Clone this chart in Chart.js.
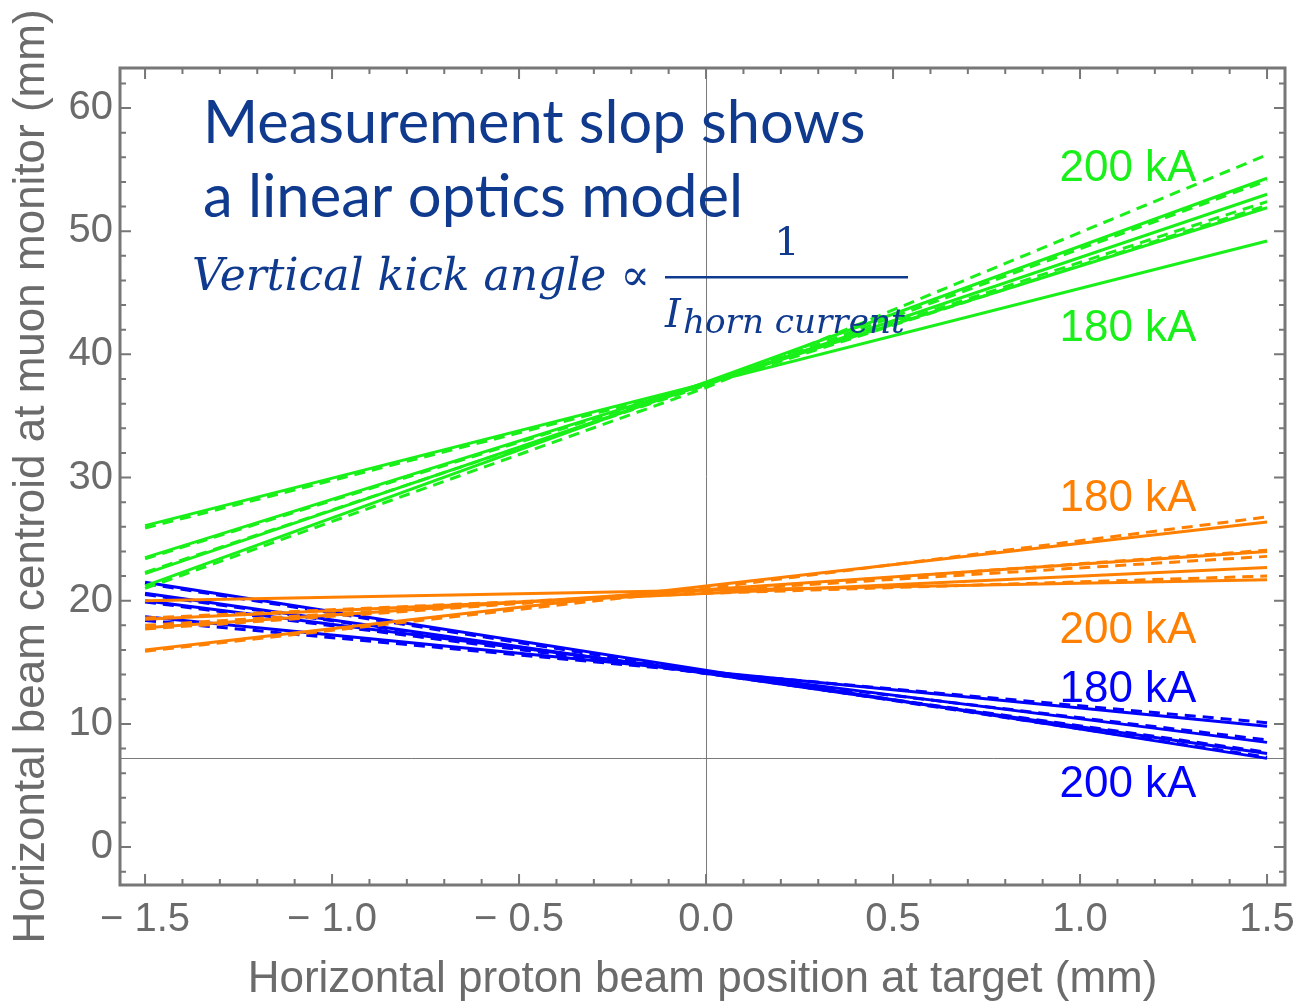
<!DOCTYPE html>
<html>
<head>
<meta charset="utf-8">
<script src="https://cdn.jsdelivr.net/npm/chart.js@4.4.1/dist/chart.umd.min.js"></script>
<style>
  html, body { margin: 0; padding: 0; background: #fff; }
  #wrap { width: 1295px; height: 1004px; }
</style>
</head>
<body>
<div id="wrap"><canvas id="muonChart"></canvas></div>
<script>
// x positions of the end points (model) and of the measured points
const xEnds = [-1.5, 1.5];
const xMeas = [-1.5, 0, 1.5];

// model lines (solid): value at x=-1.5 and x=1.5
const greenSolid = [[26.1, 49.2], [23.5, 51.9], [22.2, 53.0], [21.2, 54.3]];
const orangeSolid = [[16.0, 26.4], [17.8, 24.0], [18.5, 22.7], [20.0, 21.7]];
const blueSolid = [[18.7, 9.8], [20.0, 8.5], [20.6, 7.6], [21.5, 7.2]];

// measurement (dashed): value at x=-1.5, 0, 1.5
const greenDashed = [[25.9, 37.5, 52.1], [23.4, 37.6, 52.4], [22.3, 37.5, 54.1], [21.0, 37.3, 56.2]];
const orangeDashed = [[15.9, 21.0, 26.8], [17.7, 20.8, 24.1], [18.0, 20.8, 23.6], [18.6, 20.6, 22.0]];
const blueDashed = [[18.4, 14.2, 10.1], [19.9, 14.1, 8.7], [20.5, 14.1, 7.7], [21.4, 14.2, 7.3]];

const xTicks = [-1.5, -1.0, -0.5, 0.0, 0.5, 1.0, 1.5];
const yTicks = [0, 10, 20, 30, 40, 50, 60];
const baseLineY = 7.2;

const GREEN = '#19f019';
const ORANGE = '#ff8000';
const BLUE = '#0000ff';
const NAVY = '#0f3a8e';
const GREY = '#6b6b6b';

function makeSets(rows, xs, color, dashed) {
    return rows.map(r => ({
        data: r.map((v, i) => ({ x: xs[i], y: v })),
        borderColor: color,
        borderWidth: 3,
        borderDash: dashed ? [11, 7] : [],
        pointRadius: 0,
        fill: false,
        tension: 0
    }));
}

const datasets = [].concat(
    makeSets(greenDashed, xMeas, GREEN, true),
    makeSets(greenSolid, xEnds, GREEN, false),
    makeSets(orangeDashed, xMeas, ORANGE, true),
    makeSets(orangeSolid, xEnds, ORANGE, false),
    makeSets(blueDashed, xMeas, BLUE, true),
    makeSets(blueSolid, xEnds, BLUE, false)
);

// labels next to the bundles, in data coordinates
const groupLabels = [
    { text: '200 kA', color: GREEN, x: 0.945, y: 54.1 },
    { text: '180 kA', color: GREEN, x: 0.945, y: 41.1 },
    { text: '180 kA', color: ORANGE, x: 0.945, y: 27.3 },
    { text: '200 kA', color: ORANGE, x: 0.945, y: 16.6 },
    { text: '180 kA', color: BLUE, x: 0.945, y: 11.8 },
    { text: '200 kA', color: BLUE, x: 0.945, y: 4.1 }
];

function fitFont(ctx, text, style, family, width) {
    ctx.font = style + ' 100px ' + family;
    const size = 100 * width / ctx.measureText(text).width;
    return style + ' ' + size.toFixed(1) + 'px ' + family;
}

const framePlugin = {
    id: 'frame',
    beforeDatasetsDraw(chart) {
        const { ctx, chartArea: a, scales: { x, y } } = chart;
        ctx.save();
        ctx.strokeStyle = '#7a7a7a';
        ctx.lineWidth = 1;
        const x0 = Math.round(x.getPixelForValue(0)) + 0.5;
        const yb = Math.round(y.getPixelForValue(baseLineY)) + 0.5;
        ctx.beginPath();
        ctx.moveTo(x0, a.top); ctx.lineTo(x0, a.bottom);
        ctx.moveTo(a.left, yb); ctx.lineTo(a.right, yb);
        ctx.stroke();
        ctx.restore();
    },
    afterDraw(chart) {
        const { ctx, chartArea: a, scales: { x, y } } = chart;
        ctx.save();
        ctx.strokeStyle = '#777';
        ctx.lineWidth = 3;
        ctx.strokeRect(a.left, a.top, a.right - a.left, a.bottom - a.top);
        ctx.lineWidth = 2;
        ctx.beginPath();
        // x ticks, major every 0.5, minor every 0.1
        for (let i = -15; i <= 15; i++) {
            const px = x.getPixelForValue(i / 10);
            const len = i % 5 === 0 ? 11 : 6;
            ctx.moveTo(px, a.bottom); ctx.lineTo(px, a.bottom - len);
            ctx.moveTo(px, a.top); ctx.lineTo(px, a.top + len);
        }
        // y ticks, major every 10, minor every 2
        for (let v = -2; v <= 62; v += 2) {
            const py = y.getPixelForValue(v);
            const len = v % 10 === 0 ? 11 : 6;
            ctx.moveTo(a.left, py); ctx.lineTo(a.left + len, py);
            ctx.moveTo(a.right, py); ctx.lineTo(a.right - len, py);
        }
        ctx.stroke();

        // annotation text
        ctx.fillStyle = NAVY;
        ctx.textBaseline = 'alphabetic';
        ctx.textAlign = 'left';
        ctx.font = fitFont(ctx, 'Measurement slop shows', '', 'Lato', 662);
        ctx.fillText('Measurement slop shows', 203, 143);
        ctx.font = fitFont(ctx, 'a linear optics model', '', 'Lato', 540);
        ctx.fillText('a linear optics model', 203, 217);

        ctx.font = fitFont(ctx, 'Vertical kick angle \u221D', 'italic', '"DejaVu Serif"', 458);
        ctx.fillText('Vertical kick angle \u221D', 192, 290);
        ctx.font = '40px "DejaVu Serif"';
        ctx.textAlign = 'center';
        ctx.fillText('1', 787, 255);
        ctx.fillRect(665, 276, 243, 2.5);
        ctx.textAlign = 'left';
        ctx.font = 'italic 40px "DejaVu Serif"';
        ctx.fillText('I', 665, 327);
        ctx.font = fitFont(ctx, 'horn current', 'italic', '"DejaVu Serif"', 222);
        ctx.fillText('horn current', 683, 333);

        // current labels
        ctx.font = '44px "Liberation Sans", Arial, sans-serif';
        ctx.textAlign = 'left';
        groupLabels.forEach(l => {
            ctx.fillStyle = l.color;
            ctx.fillText(l.text, x.getPixelForValue(l.x), y.getPixelForValue(l.y));
        });
        ctx.restore();
    }
};

const tickFont = { family: '"Liberation Sans", Arial, sans-serif', size: 40 };
const titleFont = { family: '"Liberation Sans", Arial, sans-serif', size: 44, lineHeight: 1.1 };

new Chart(document.getElementById('muonChart').getContext('2d'), {
    type: 'line',
    data: { datasets: datasets },
    options: {
        responsive: true,
        maintainAspectRatio: false,
        animation: false,
        layout: { padding: { left: 0, right: 10, top: 68, bottom: 0 } },
        plugins: {
            legend: { display: false },
            tooltip: { enabled: false }
        },
        scales: {
            x: {
                type: 'linear',
                min: -1.567,
                max: 1.548,
                grid: { display: false, drawTicks: false },
                border: { display: false },
                afterBuildTicks: s => { s.ticks = xTicks.map(v => ({ value: v })); },
                afterFit: s => { s.height = 119; s.paddingLeft = 0; s.paddingRight = 0; },
                ticks: {
                    color: GREY,
                    font: tickFont,
                    padding: 11,
                    maxRotation: 0,
                    autoSkip: false,
                    callback: v => (v < 0 ? '\u2212 ' : '') + Math.abs(v).toFixed(1)
                },
                title: {
                    display: true,
                    text: 'Horizontal proton beam position at target (mm)',
                    color: GREY,
                    font: titleFont,
                    padding: { top: 0, bottom: 0 }
                }
            },
            y: {
                type: 'linear',
                min: -3.08,
                max: 63.25,
                grid: { display: false, drawTicks: false },
                border: { display: false },
                afterBuildTicks: s => { s.ticks = yTicks.map(v => ({ value: v })); },
                afterFit: s => { s.width = 120; s.paddingTop = 0; s.paddingBottom = 0; },
                ticks: {
                    color: GREY,
                    font: tickFont,
                    padding: 7,
                    autoSkip: false
                },
                title: {
                    display: true,
                    text: 'Horizontal beam centroid at muon monitor (mm)',
                    color: GREY,
                    font: titleFont,
                    padding: { top: 8, bottom: 0 }
                }
            }
        }
    },
    plugins: [framePlugin]
});
</script>
</body>
</html>
